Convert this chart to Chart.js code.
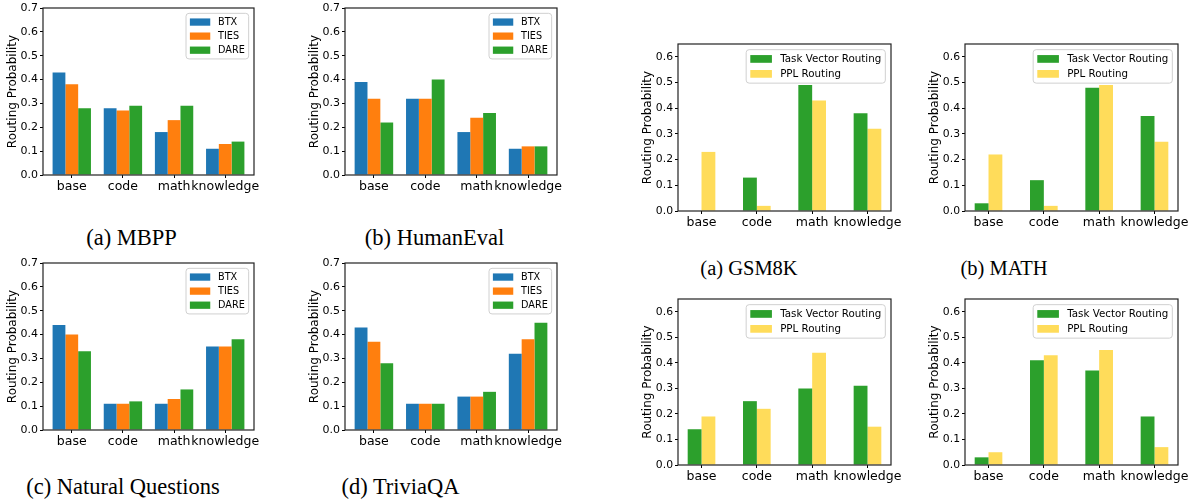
<!DOCTYPE html>
<html>
<head>
<meta charset="utf-8">
<script src="https://cdn.jsdelivr.net/npm/chart.js@4"></script>
<style>
  body { margin: 0; background: #fff; }
  #fig { position: relative; width: 1189px; height: 502px; overflow: hidden; background: #fff; }
  canvas { position: absolute; }
  .cap { position: absolute; font-family: "Liberation Serif", "Times New Roman", serif; color: #000;
         white-space: nowrap; line-height: 1; transform: translate(-50%, -50%); }
</style>
</head>
<body>
<div id="fig"></div>
<script>
// categories on the x axis (matplotlib puts them at 0,1,2,3)
const categories = ['base', 'code', 'math', 'knowledge'];
const xPositions = [0, 1, 2, 3];

// left block: BTX / TIES / DARE
const mbppBTX  = [0.43, 0.28, 0.18, 0.11];
const mbppTIES = [0.38, 0.27, 0.23, 0.13];
const mbppDARE = [0.28, 0.29, 0.29, 0.14];

const humanevalBTX  = [0.39, 0.32, 0.18, 0.11];
const humanevalTIES = [0.32, 0.32, 0.24, 0.12];
const humanevalDARE = [0.22, 0.40, 0.26, 0.12];

const nqBTX  = [0.44, 0.11, 0.11, 0.35];
const nqTIES = [0.40, 0.11, 0.13, 0.35];
const nqDARE = [0.33, 0.12, 0.17, 0.38];

const triviaBTX  = [0.43, 0.11, 0.14, 0.32];
const triviaTIES = [0.37, 0.11, 0.14, 0.38];
const triviaDARE = [0.28, 0.11, 0.16, 0.45];

// right block: task vector routing vs PPL routing
const gsmTaskVector = [0.002, 0.13, 0.49, 0.38];
const gsmPPL        = [0.23, 0.02, 0.43, 0.32];

const mathTaskVector = [0.03, 0.12, 0.48, 0.37];
const mathPPL        = [0.22, 0.02, 0.49, 0.27];

const lowerLeftTaskVector = [0.14, 0.25, 0.30, 0.31];
const lowerLeftPPL        = [0.19, 0.22, 0.44, 0.15];

const lowerRightTaskVector = [0.03, 0.41, 0.37, 0.19];
const lowerRightPPL        = [0.05, 0.43, 0.45, 0.07];

const leftTicks  = [0, 0.1, 0.2, 0.3, 0.4, 0.5, 0.6, 0.7];
const rightTicks = [0, 0.1, 0.2, 0.3, 0.4, 0.5, 0.6];

const FONT = '"DejaVu Sans", sans-serif';
const BLUE = '#1f77b4', ORANGE = '#ff7f0e', GREEN = '#2ca02c', YELLOW = '#ffdc5a';

const AXW = 45, PADT = 10, PADR = 16, XAH = 25;

// top and right spines
const framePlugin = {
  id: 'frame',
  afterDatasetsDraw(chart) {
    const { ctx, chartArea: a } = chart;
    ctx.save();
    ctx.strokeStyle = '#222';
    ctx.lineWidth = 1.2;
    ctx.strokeRect(a.left, a.top, a.right - a.left, a.bottom - a.top);
    ctx.restore();
  }
};

// matplotlib style legend box in the upper right of the axes
const legendPlugin = {
  id: 'boxLegend',
  afterDraw(chart, args, opts) {
    const f = opts.fontSize;
    const { ctx, chartArea: a } = chart;
    ctx.save();
    ctx.font = f + 'px ' + FONT;
    const items = chart.data.datasets.map(d => ({ label: d.label, color: d.backgroundColor }));
    const tw = Math.max(...items.map(i => ctx.measureText(i.label).width));
    const pad = 0.4 * f, sw = 2.1 * f, sh = 0.75 * f, gap = 0.8 * f, rowH = 1.45 * f, edge = 0.9 * f;
    const w = pad + sw + gap + tw + pad;
    const h = 2 * edge + (items.length - 1) * rowH;
    const x = a.right - 0.55 * f - w, y = a.top + 0.55 * f;
    ctx.beginPath();
    ctx.roundRect(x, y, w, h, 3);
    ctx.fillStyle = 'rgba(255,255,255,0.8)';
    ctx.fill();
    ctx.strokeStyle = '#d0d0d0';
    ctx.lineWidth = 1;
    ctx.stroke();
    ctx.textBaseline = 'middle';
    items.forEach((it, i) => {
      const cy = y + edge + i * rowH;
      ctx.fillStyle = it.color;
      ctx.fillRect(x + pad, cy - sh / 2, sw, sh);
      ctx.fillStyle = '#000';
      ctx.fillText(it.label, x + pad + sw + gap, cy + 0.5);
    });
    ctx.restore();
  }
};

function makePanel(p) {
  const fig = document.getElementById('fig');
  const cv = document.createElement('canvas');
  const w = AXW + p.w + PADR, h = PADT + p.h + XAH;
  cv.width = w; cv.height = h;
  cv.style.left = (p.x - AXW) + 'px';
  cv.style.top = (p.y - PADT) + 'px';
  cv.style.width = w + 'px'; cv.style.height = h + 'px';
  fig.appendChild(cv);

  const tickGrid = { display: true, drawOnChartArea: false, drawTicks: true, tickLength: 3, color: '#000', lineWidth: 1, offset: false };

  new Chart(cv, {
    type: 'bar',
    data: { labels: xPositions, datasets: p.datasets },
    options: {
      responsive: false,
      animation: false,
      events: [],
      layout: { padding: { top: PADT, right: PADR, left: 0, bottom: 0 } },
      datasets: { bar: { categoryPercentage: p.catPct, barPercentage: 1 } },
      plugins: {
        legend: { display: false },
        tooltip: { enabled: false },
        boxLegend: { fontSize: p.legendFont }
      },
      scales: {
        x: {
          type: 'linear', min: p.xMin, max: p.xMax, offset: false,
          afterBuildTicks: s => { s.ticks = xPositions.map(v => ({ value: v })); },
          afterFit: s => { s.height = XAH; },
          grid: tickGrid,
          border: { display: false },
          ticks: {
            callback: v => categories[v],
            font: { family: FONT, size: 12.5 }, color: '#000',
            padding: 1, autoSkip: false, maxRotation: 0
          }
        },
        y: {
          min: 0, max: p.yMax,
          afterBuildTicks: s => { s.ticks = p.yTicks.map(v => ({ value: v })); },
          afterFit: s => { s.width = AXW; },
          grid: tickGrid,
          border: { display: false },
          ticks: {
            callback: v => v.toFixed(1),
            font: { family: FONT, size: p.tickFont }, color: '#000', padding: 2
          },
          title: {
            display: true, text: 'Routing Probability', color: '#000',
            font: { family: FONT, size: 12 }, padding: { top: 8, bottom: 0 }
          }
        }
      }
    },
    plugins: [framePlugin, legendPlugin]
  });
}

function mergeSets(btx, ties, dare) {
  return [
    { label: 'BTX', data: btx, backgroundColor: BLUE },
    { label: 'TIES', data: ties, backgroundColor: ORANGE },
    { label: 'DARE', data: dare, backgroundColor: GREEN }
  ];
}
function routeSets(tv, ppl) {
  return [
    { label: 'Task Vector Routing', data: tv, backgroundColor: GREEN },
    { label: 'PPL Routing', data: ppl, backgroundColor: YELLOW }
  ];
}

const leftCommon = { xMin: -0.5625, xMax: 3.5625, catPct: 0.75, yMax: 0.7, yTicks: leftTicks, legendFont: 9.7, tickFont: 11 };
const rightCommon = { xMin: -0.425, xMax: 3.425, catPct: 0.5, yMax: 0.65, yTicks: rightTicks, legendFont: 10.3, tickFont: 10.8 };

makePanel({ ...leftCommon, x: 43, y: 8, w: 211, h: 167, datasets: mergeSets(mbppBTX, mbppTIES, mbppDARE) });
makePanel({ ...leftCommon, x: 345, y: 8, w: 212, h: 167, datasets: mergeSets(humanevalBTX, humanevalTIES, humanevalDARE) });
makePanel({ ...leftCommon, x: 43, y: 263, w: 211, h: 167, datasets: mergeSets(nqBTX, nqTIES, nqDARE) });
makePanel({ ...leftCommon, x: 345, y: 263, w: 212, h: 167, datasets: mergeSets(triviaBTX, triviaTIES, triviaDARE) });

makePanel({ ...rightCommon, x: 678, y: 44, w: 213, h: 167, datasets: routeSets(gsmTaskVector, gsmPPL) });
makePanel({ ...rightCommon, x: 965, y: 44, w: 213, h: 167, datasets: routeSets(mathTaskVector, mathPPL) });
makePanel({ ...rightCommon, x: 678, y: 299, w: 213, h: 166, datasets: routeSets(lowerLeftTaskVector, lowerLeftPPL) });
makePanel({ ...rightCommon, x: 965, y: 299, w: 213, h: 166, datasets: routeSets(lowerRightTaskVector, lowerRightPPL) });

// sub-figure captions
const captions = [
  { text: '(a) MBPP', x: 131.5, y: 237.5, size: 22.5 },
  { text: '(b) HumanEval', x: 434.5, y: 237.5, size: 22.5 },
  { text: '(c) Natural Questions', x: 123, y: 486.5, size: 22.5 },
  { text: '(d) TriviaQA', x: 400.5, y: 486.5, size: 22.5 },
  { text: '(a) GSM8K', x: 749, y: 268, size: 20.5 },
  { text: '(b) MATH', x: 1004, y: 268, size: 20.5 }
];
captions.forEach(c => {
  const d = document.createElement('div');
  d.className = 'cap';
  d.textContent = c.text;
  d.style.left = c.x + 'px';
  d.style.top = c.y + 'px';
  d.style.fontSize = c.size + 'px';
  document.getElementById('fig').appendChild(d);
});
</script>
</body>
</html>
